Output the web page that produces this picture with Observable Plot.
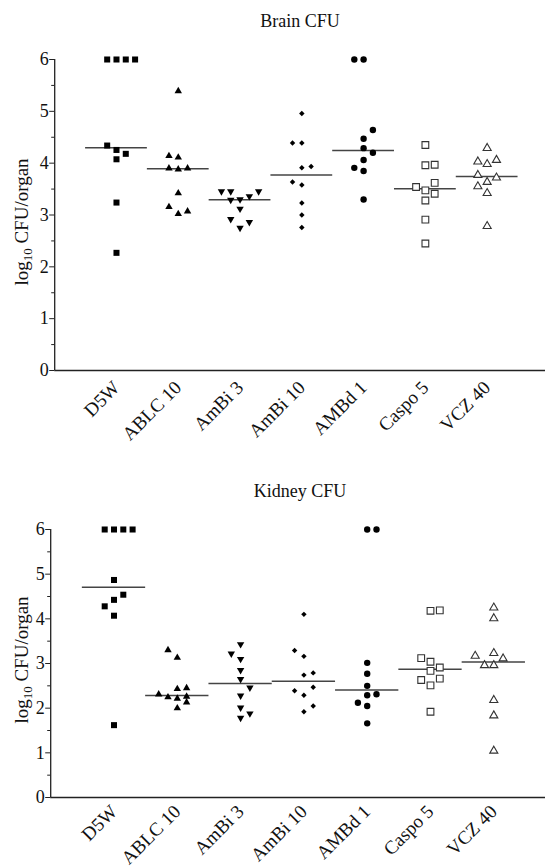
<!DOCTYPE html>
<html><head><meta charset="utf-8">
<script src="https://cdn.jsdelivr.net/npm/d3@7"></script>
<script src="https://cdn.jsdelivr.net/npm/@observablehq/plot@0.6"></script>
<style>
body{margin:0;background:#fff;font-family:"Liberation Serif","Times New Roman",serif}
.t{width:545px;height:42px;line-height:42px;box-sizing:border-box;padding-left:55px;text-align:center;font-size:18px;color:#111}
svg{display:block}
</style>
</head><body><div id="c"></div>
<script>
// ---- data ----
const categories = ["D5W", "ABLC 10", "AmBi 3", "AmBi 10", "AMBd 1", "Caspo 5", "VCZ 40"];
const yTicks = [0, 1, 2, 3, 4, 5, 6];

// Brain CFU (log10 CFU/organ), one array per group; cols = jitter column of each point
const brainD5W   = [6, 6, 6, 6, 4.34, 4.255, 4.18, 4.075, 3.24, 2.27];
const brainABLC  = [5.39, 4.14, 4.11, 3.90, 3.88, 3.90, 3.42, 3.155, 3.02, 3.07];
const brainAmBi3 = [3.455, 3.455, 3.29, 3.30, 3.36, 3.455, 3.12, 2.92, 2.86, 2.75];
const brainAmBi10= [4.96, 4.39, 4.39, 3.91, 3.935, 3.635, 3.58, 3.23, 3.00, 2.76];
const brainAMBd1 = [6, 6, 4.64, 4.47, 4.29, 4.20, 4.06, 3.91, 3.85, 3.30];
const brainCaspo = [4.35, 3.96, 3.97, 3.62, 3.54, 3.475, 3.41, 3.28, 2.91, 2.45];
const brainVCZ   = [4.29, 4.03, 3.98, 4.06, 3.77, 3.72, 3.635, 3.55, 3.42, 2.785];
const brainCols = [
  [-1, 0, 1, 2, -1, 0, 1, 0, 0, 0],
  [0, -1, 0, -1, 0, 1, 0, -1, 0, 1],
  [-2, -1, -1, 0, 1, 2, 0, -1, 1, 0],
  [0, -1, 0, 0, 1, -1, 0, 0, 0, 0],
  [-1, 0, 1, 0, 0, 1, 0, -1, 0, 0],
  [0, 0, 1, 1, -1, 0, 1, 0, 0, 0],
  [0, -1, 0, 1, -1, 1, 0, -1, 0, 0]
];

// Kidney CFU
const kidneyD5W   = [6, 6, 6, 6, 4.87, 4.54, 4.425, 4.28, 4.07, 1.62];
const kidneyABLC  = [3.30, 3.13, 2.43, 2.45, 2.31, 2.245, 2.215, 2.26, 2.13, 2.00];
const kidneyAmBi3 = [3.43, 3.22, 3.10, 2.85, 2.65, 2.46, 2.28, 2.01, 1.88, 1.78];
const kidneyAmBi10= [4.10, 3.29, 3.16, 2.79, 2.74, 2.47, 2.39, 2.29, 2.05, 1.92];
const kidneyAMBd1 = [6, 6, 3.015, 2.77, 2.50, 2.31, 2.29, 2.12, 2.05, 1.66];
const kidneyCaspo = [4.18, 4.19, 3.12, 3.04, 2.91, 2.835, 2.63, 2.66, 2.51, 1.92];
const kidneyVCZ   = [4.25, 4.01, 3.17, 3.23, 3.11, 2.96, 2.96, 2.18, 1.835, 1.045];
const kidneyCols = [
  [-1, 0, 1, 2, 0, 1, 0, -1, 0, 0],
  [-1, 0, 0, 1, -2, -1, 0, 1, 1, 0],
  [0, -1, 0, 0, 0, 1, 0, 0, 1, 0],
  [0, -1, 0, 1, 0, 1, -1, 0, 1, 0],
  [0, 1, 0, 0, 0, 1, 0, -1, 0, 0],
  [0, 1, -1, 0, 1, 0, -1, 1, 0, 0],
  [0, 0, -2, 0, 1, -1, 0, 0, 0, 0]
];

// ---- styles ----
const triangleDown = {
  draw(ctx, size) {
    const y = -Math.sqrt(size / (Math.sqrt(3) * 3));
    ctx.moveTo(0, -y * 2);
    ctx.lineTo(-Math.sqrt(3) * y, y);
    ctx.lineTo(Math.sqrt(3) * y, y);
    ctx.closePath();
  }
};
const styles = [
  {symbol: "square", r: 3.4, fill: "#000", stroke: "none"},
  {symbol: "triangle", r: 2.75, fill: "#000", stroke: "none"},
  {symbol: triangleDown, r: 2.75, fill: "#000", stroke: "none"},
  {symbol: "diamond2", r: 2.45, fill: "#000", stroke: "none"},
  {symbol: "circle", r: 3.2, fill: "#000", stroke: "none"},
  {symbol: "square", r: 3.8, fill: "#fff", stroke: "#333", strokeWidth: 1.1},
  {symbol: "triangle", r: 3.0, fill: "#fff", stroke: "#333", strokeWidth: 1.1}
];

function panel(groups, cols, cfg) {
  const {height, marginTop, marginBottom, axisLeft, step, labelPad, labelY} = cfg;
  const width = 545;
  const jit = 9.3 / step;
  const xmax = (width - axisLeft) / step - 1;
  const rows = groups.map((vals, g) => vals.map((v, k) => ({g, v, x: g + cols[g][k] * jit})));
  const medians = groups.map((vals, g) => ({g, m: d3.median(vals)}));
  const marks = [
    Plot.ruleY(medians, {y: "m", x1: d => d.g - 0.5, x2: d => d.g + 0.5, stroke: "#444", strokeWidth: 1.5}),
    ...rows.map((r, g) => Plot.dot(r, {x: "x", y: "v", ...styles[g]})),
    Plot.ruleX([-1], {x: d => d, y1: 0, y2: 6, stroke: "#222", strokeWidth: 1.3}),
    Plot.ruleY([0], {stroke: "#222", strokeWidth: 1.3}),
    Plot.axisY({ticks: yTicks, tickSize: 5, tickPadding: 1, fontSize: 18, label: null, stroke: "#222",
      tickFormat: d => String(d)}),
    Plot.axisY({ticks: d3.range(0.5, 6, 1), tickSize: 3, tickFormat: () => "", label: null, stroke: "#222"}),
    Plot.axisX({ticks: d3.range(categories.length), tickFormat: i => categories[i], tickRotate: -45,
      tickSize: 0, tickPadding: labelPad, fontSize: 19, label: null})
  ];
  const svg = Plot.plot({
    width, height, marginTop, marginBottom, marginLeft: axisLeft, marginRight: 0,
    style: {fontFamily: "Liberation Serif, Times New Roman, serif", background: "#fff", color: "#111"},
    x: {domain: [-1, xmax], axis: null},
    y: {domain: [0, 6], axis: null},
    marks
  });
  const t = d3.select(svg).append("text")
    .attr("transform", `translate(28,${labelY}) rotate(-90)`)
    .attr("text-anchor", "middle")
    .attr("font-family", "Liberation Serif, Times New Roman, serif")
    .attr("font-size", 19)
    .attr("fill", "#111");
  t.append("tspan").text("log");
  t.append("tspan").attr("font-size", 13).attr("dy", 4).text("10");
  t.append("tspan").attr("dy", -4).text(" CFU/organ");
  return svg;
}

const c = document.getElementById("c");
const t1 = document.createElement("div"); t1.className = "t"; t1.textContent = "Brain CFU"; c.appendChild(t1);
c.appendChild(panel([brainD5W, brainABLC, brainAmBi3, brainAmBi10, brainAMBd1, brainCaspo, brainVCZ], brainCols,
  {height: 428, marginTop: 17, marginBottom: 100, axisLeft: 54.2, step: 61.78, labelPad: 14, labelY: 180}));
const t2 = document.createElement("div"); t2.className = "t"; t2.textContent = "Kidney CFU"; c.appendChild(t2);
c.appendChild(panel([kidneyD5W, kidneyABLC, kidneyAmBi3, kidneyAmBi10, kidneyAMBd1, kidneyCaspo, kidneyVCZ], kidneyCols,
  {height: 355, marginTop: 17, marginBottom: 70, axisLeft: 50.2, step: 63.3, labelPad: 11, labelY: 148}));
</script>
</body></html>
